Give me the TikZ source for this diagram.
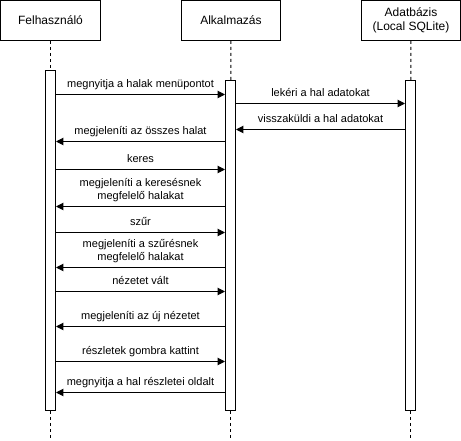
\documentclass[tikz,border=0pt]{standalone}
\usepackage{fontspec}
\setmainfont{Liberation Sans}
\usepackage{tikz}
\usetikzlibrary{calc}
\usetikzlibrary{arrows.meta}

\begin{document}
\begin{tikzpicture}[x=0.75pt,y=-0.75pt]
    \tikzstyle{actor}=[draw=black,line width=0.75pt,fill=white,minimum width=75pt,minimum height=30pt,inner sep=0pt,align=center,font=\fontsize{9}{10.5}\selectfont]
    \tikzstyle{activation}=[draw=black,line width=0.75pt,fill=white,minimum width=7.5pt,inner sep=0pt]
    \tikzstyle{lifeline}=[line width=0.75pt,dash pattern=on 2.25pt off 2.25pt]
    \tikzstyle{message}=[-{Triangle[length=5.5pt,width=5.5pt]},line width=0.75pt]
    \tikzstyle{message text}=[above=4.6pt,inner sep=0pt,text depth=0pt,align=center,font=\fontsize{8.25}{9.75}\selectfont]

    \useasboundingbox (-0.5,-0.5) rectangle (460.5,440.5);

    % Actors
    \node[style=actor] (felh) at (50,20) {Felhasználó};
    \node[style=actor,minimum width=74.25pt] (alk) at (230.5,20) {Alkalmazás};
    \node[style=actor,minimum width=74.25pt] (adat) at (410.5,20) {Adatbázis\\(Local SQLite)};

    % Activation bars
    \node[style=activation,minimum height=255pt] (felhbar) at (50,240) {};
    \node[style=activation,minimum height=247.5pt] (alkbar) at (230,245) {};
    \node[style=activation,minimum height=247.5pt] (adatbar) at (410,245) {};

    \coordinate (felhend) at (50,440);
    \coordinate (alkend) at (230,440);
    \coordinate (adatend) at (410,440);

    % Lifelines
    \draw[style=lifeline] (felh) -- (felhbar);
    \draw[style=lifeline] (felhbar) -- (felhend);
    \draw[style=lifeline] (alk) -- (alkbar);
    \draw[style=lifeline] (alkbar) -- (alkend);
    \draw[style=lifeline] (adat) -- (adatbar);
    \draw[style=lifeline] (adatbar) -- (adatend);

    % Message levels
    \coordinate (m1) at (0,94);
    \coordinate (m2) at (0,103);
    \coordinate (m3) at (0,129);
    \coordinate (m4) at (0,141);
    \coordinate (m5) at (0,169);
    \coordinate (m6) at (0,206);
    \coordinate (m7) at (0,232);
    \coordinate (m8) at (0,267);
    \coordinate (m9) at (0,291);
    \coordinate (m10) at (0,326);
    \coordinate (m11) at (0,361);
    \coordinate (m12) at (0,392);

    % Messages
    \draw[style=message] (felhbar.east |- m1) -- node[style=message text] {megnyitja a halak menüpontot} (alkbar.west |- m1);
    \draw[style=message] (alkbar.east |- m2) -- node[style=message text] {lekéri a hal adatokat} (adatbar.west |- m2);
    \draw[style=message] (adatbar.west |- m3) -- node[style=message text] {visszaküldi a hal adatokat} (alkbar.east |- m3);
    \draw[style=message] (alkbar.west |- m4) -- node[style=message text] {megjeleníti az összes halat} (felhbar.east |- m4);
    \draw[style=message] (felhbar.east |- m5) -- node[style=message text] {keres} (alkbar.west |- m5);
    \draw[style=message] (alkbar.west |- m6) -- node[style=message text] {megjeleníti a keresésnek\\megfelelő halakat} (felhbar.east |- m6);
    \draw[style=message] (felhbar.east |- m7) -- node[style=message text] {szűr} (alkbar.west |- m7);
    \draw[style=message] (alkbar.west |- m8) -- node[style=message text] {megjeleníti a szűrésnek\\megfelelő halakat} (felhbar.east |- m8);
    \draw[style=message] (felhbar.east |- m9) -- node[style=message text] {nézetet vált} (alkbar.west |- m9);
    \draw[style=message] (alkbar.west |- m10) -- node[style=message text] {megjeleníti az új nézetet} (felhbar.east |- m10);
    \draw[style=message] (felhbar.east |- m11) -- node[style=message text] {részletek gombra kattint} (alkbar.west |- m11);
    \draw[style=message] (alkbar.west |- m12) -- node[style=message text] {megnyitja a hal részletei oldalt} (felhbar.east |- m12);

\end{tikzpicture}
\end{document}
